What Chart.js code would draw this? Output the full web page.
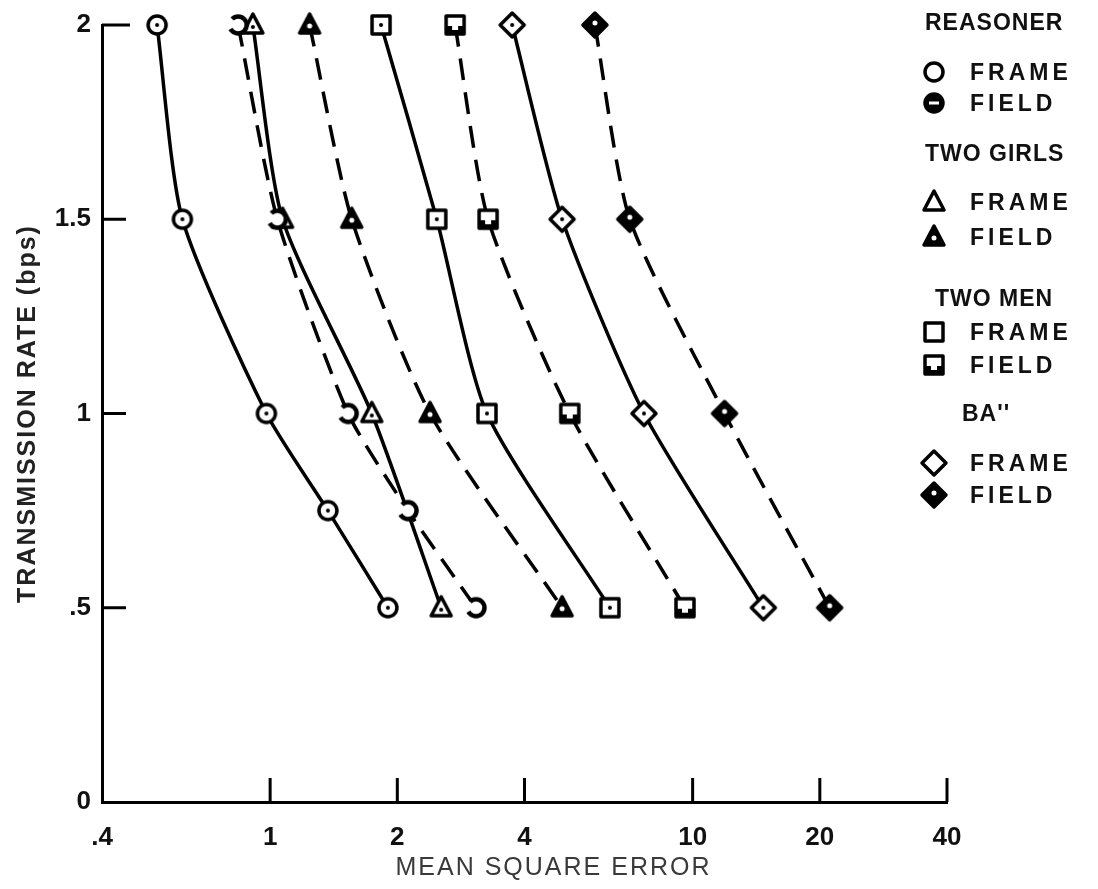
<!DOCTYPE html>
<html>
<head>
<meta charset="utf-8">
<script src="https://cdn.jsdelivr.net/npm/chart.js@4.4.1/dist/chart.umd.min.js"></script>
<style>
  body { margin: 0; background: #fff; }
  #wrap { position: relative; width: 1098px; height: 889px; }
  #legend { position: absolute; left: 0; top: 0; font-family: "Liberation Sans", Arial, sans-serif; font-weight: bold; color: #111; }
  #legend div { position: absolute; font-size: 23px; line-height: 26px; white-space: nowrap; }
  #legend .hd { letter-spacing: 1px; }
  #legend .it { letter-spacing: 4px; }
  #legend canvas { position: absolute; }
</style>
</head>
<body>
<div id="wrap">
  <canvas id="chart" width="1098" height="889"></canvas>
  <div id="legend"></div>
</div>
<script>
// transmission rates (bps) for each curve, top to bottom
const RATE = [2, 1.5, 1, 0.5];
const RATE_REASONER = [2, 1.5, 1, 0.75, 0.5];

// mean square error per picture / coding mode
const reasonerFrame = [0.54, 0.62, 0.98, 1.37, 1.90];
const reasonerField = [0.84, 1.04, 1.53, 2.12, 3.07];
const girlsFrame = [0.91, 1.07, 1.74, 2.54];
const girlsField = [1.24, 1.56, 2.39, 4.91];
const menFrame = [1.83, 2.48, 3.26, 6.37];
const menField = [2.74, 3.28, 5.12, 9.59];
const banFrame = [3.74, 4.91, 7.67, 14.7];
const banField = [5.87, 7.1, 11.9, 21.1];

const X_TICKS = [0.4, 1, 2, 4, 10, 20, 40];
const X_LABELS = [".4", "1", "2", "4", "10", "20", "40"];
const Y_TICKS = [0, 0.5, 1, 1.5, 2];
const Y_LABELS = ["0", ".5", "1", "1.5", "2"];

// marker glyphs
function shapePath(g, shape) {
  g.beginPath();
  if (shape === "circle") g.arc(0, 0, 9, 0, Math.PI * 2);
  else if (shape === "triangle") { g.moveTo(0, -11); g.lineTo(10, 8); g.lineTo(-10, 8); g.closePath(); }
  else if (shape === "square") g.rect(-9, -9, 18, 18);
  else { g.moveTo(0, -12); g.lineTo(12, 0); g.lineTo(0, 12); g.lineTo(-12, 0); g.closePath(); }
}

function marker(shape, field, key) {
  const c = document.createElement("canvas");
  c.width = c.height = 30;
  const g = c.getContext("2d");
  g.translate(15, 15);
  g.lineJoin = "round";
  g.lineWidth = 3.5;
  g.strokeStyle = "#000";
  if (!field) {
    shapePath(g, shape);
    g.fillStyle = "#fff"; g.fill(); g.stroke();
    if (!key) {
      g.fillStyle = "#000";
      g.beginPath(); g.arc(0, shape === "triangle" ? 2 : 0, 2, 0, Math.PI * 2); g.fill();
    }
  } else if (shape === "circle" && !key) {
    // broken ring
    g.fillStyle = "#fff";
    shapePath(g, shape); g.fill();
    g.lineWidth = 4.5;
    g.beginPath(); g.arc(0, 0, 8.5, -Math.PI * 0.75, Math.PI * 0.85); g.stroke();
  } else if (shape === "square") {
    shapePath(g, shape);
    g.fillStyle = "#fff"; g.fill(); g.stroke();
    g.fillStyle = "#000"; g.fillRect(-9, 1, 18, 9);
    g.fillStyle = "#fff"; g.fillRect(-3, -2, 6, 7);
  } else {
    shapePath(g, shape);
    g.fillStyle = "#000"; g.fill(); g.stroke();
    g.fillStyle = "#fff";
    if (shape === "circle") g.fillRect(-5, -1.5, 10, 3);
    else { g.beginPath(); g.arc(0, shape === "triangle" ? 1 : -2, 2.5, 0, Math.PI * 2); g.fill(); }
  }
  return c;
}

function series(xs, ys, shape, field) {
  return {
    data: xs.map((x, i) => ({ x: x, y: ys[i] })),
    borderColor: "#000",
    borderWidth: 3.5,
    borderDash: field ? [22, 12] : [],
    tension: 0.22,
    showLine: true,
    fill: false,
    clip: false,
    pointStyle: marker(shape, field, false),
    pointRadius: 10
  };
}

const datasets = [
  series(reasonerFrame, RATE_REASONER, "circle", false),
  series(reasonerField, RATE_REASONER, "circle", true),
  series(girlsFrame, RATE, "triangle", false),
  series(girlsField, RATE, "triangle", true),
  series(menFrame, RATE, "square", false),
  series(menField, RATE, "square", true),
  series(banFrame, RATE, "diamond", false),
  series(banField, RATE, "diamond", true)
];

// short tick marks pointing into the plot
const inwardTicks = {
  id: "inwardTicks",
  afterDraw(chart) {
    const { ctx, chartArea, scales } = chart;
    ctx.save();
    ctx.strokeStyle = "#000";
    ctx.lineWidth = 3;
    X_TICKS.slice(1).forEach(v => {
      const px = scales.x.getPixelForValue(v);
      ctx.beginPath(); ctx.moveTo(px, chartArea.bottom); ctx.lineTo(px, chartArea.bottom - 24); ctx.stroke();
    });
    Y_TICKS.slice(1).forEach(v => {
      const py = scales.y.getPixelForValue(v);
      ctx.beginPath(); ctx.moveTo(chartArea.left, py); ctx.lineTo(chartArea.left + (v === 2 ? 28 : 24), py); ctx.stroke();
    });
    ctx.restore();
  }
};

// letter spacing and a small shift for the axis titles
const titleStyle = {
  id: "titleStyle",
  afterLayout(chart) {
    [["x", "2px", 29], ["y", "2px", 0]].forEach(([id, sp, dx]) => {
      const s = chart.scales[id];
      const draw = s.drawTitle.bind(s);
      s.drawTitle = function () {
        this.ctx.save();
        this.ctx.letterSpacing = sp;
        this.ctx.translate(dx, 0);
        draw();
        this.ctx.restore();
      };
    });
  }
};

const tickFont = { family: "'Liberation Sans Narrow', 'Liberation Sans', Arial, sans-serif", size: 26, weight: "bold" };

new Chart(document.getElementById("chart"), {
  type: "scatter",
  data: { datasets },
  plugins: [inwardTicks, titleStyle],
  options: {
    responsive: false,
    animation: false,
    layout: { padding: { top: 25, right: 151, left: 0, bottom: 0 } },
    plugins: { legend: { display: false }, tooltip: { enabled: false } },
    scales: {
      x: {
        type: "logarithmic",
        min: 0.4,
        max: 40,
        afterBuildTicks: s => { s.ticks = X_TICKS.map(v => ({ value: v })); },
        afterFit: s => { s.height = 87; },
        grid: { display: false },
        border: { display: true, color: "#000", width: 3 },
        ticks: {
          color: "#111",
          font: tickFont,
          padding: 12,
          maxRotation: 0,
          autoSkip: false,
          callback: v => X_LABELS[X_TICKS.indexOf(v)]
        },
        title: {
          display: true,
          text: "MEAN SQUARE ERROR",
          color: "#3a3a3a",
          font: { family: "'Liberation Sans', Arial, sans-serif", size: 25 },
          padding: { top: 0, bottom: 6 }
        }
      },
      y: {
        type: "linear",
        min: 0,
        max: 2,
        afterBuildTicks: s => { s.ticks = Y_TICKS.map(v => ({ value: v })); },
        afterFit: s => { s.width = 102; },
        grid: { display: false },
        border: { display: true, color: "#000", width: 3 },
        ticks: {
          color: "#111",
          font: tickFont,
          padding: 3,
          callback: v => Y_LABELS[Y_TICKS.indexOf(v)]
        },
        title: {
          display: true,
          text: "TRANSMISSION RATE (bps)",
          color: "#222",
          font: { family: "'Liberation Sans', Arial, sans-serif", size: 25, weight: "bold" },
          padding: { top: 13, bottom: 0 }
        }
      }
    }
  }
});

// grouped key on the right
const legendRows = [
  { text: "REASONER", cls: "hd", x: 925, y: 22 },
  { text: "FRAME", shape: "circle", field: false, y: 72 },
  { text: "FIELD", shape: "circle", field: true, y: 103 },
  { text: "TWO GIRLS", cls: "hd", x: 925, y: 153 },
  { text: "FRAME", shape: "triangle", field: false, y: 202 },
  { text: "FIELD", shape: "triangle", field: true, y: 237 },
  { text: "TWO MEN", cls: "hd", x: 935, y: 298 },
  { text: "FRAME", shape: "square", field: false, y: 332 },
  { text: "FIELD", shape: "square", field: true, y: 365 },
  { text: "BA''", cls: "hd", x: 962, y: 413 },
  { text: "FRAME", shape: "diamond", field: false, y: 463 },
  { text: "FIELD", shape: "diamond", field: true, y: 495 }
];

const legend = document.getElementById("legend");
legendRows.forEach(r => {
  const d = document.createElement("div");
  d.textContent = r.text;
  d.className = r.cls || "it";
  d.style.left = (r.x || 970) + "px";
  d.style.top = (r.y - 13) + "px";
  legend.appendChild(d);
  if (r.shape) {
    const icon = marker(r.shape, r.field, true);
    icon.style.left = (934 - 15) + "px";
    icon.style.top = (r.y - 15) + "px";
    legend.appendChild(icon);
  }
});
</script>
</body>
</html>
